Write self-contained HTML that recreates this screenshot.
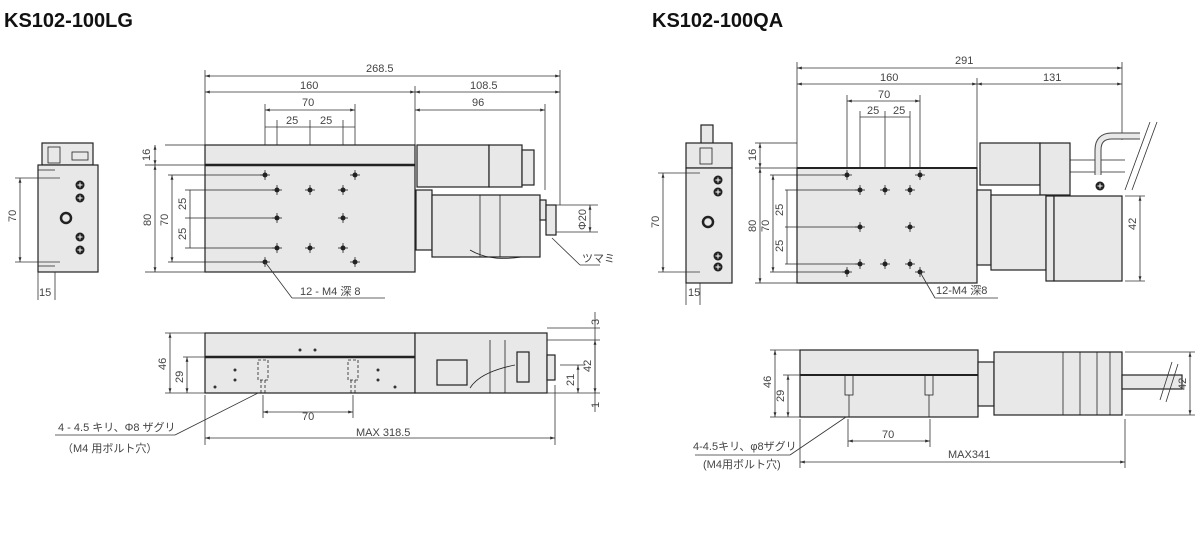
<!DOCTYPE html>
<html><head><meta charset="utf-8"><style>
html,body{margin:0;padding:0;background:#fff;}
svg{display:block;font-family:"Liberation Sans","Noto Sans CJK JP",sans-serif;}
.t{font-size:11px;fill:#444;}
.d{stroke:#333;stroke-width:0.8;fill:none;}
.b{stroke:#222;stroke-width:1.2;fill:#e8e8e8;}
.h{stroke:#222;stroke-width:0.8;fill:none;}
.sc{fill:#222;}
</style></head><body>
<svg width="1201" height="538" viewBox="0 0 1201 538" xmlns="http://www.w3.org/2000/svg">
<defs><marker id="a" viewBox="0 0 10 10" refX="10" refY="5" markerWidth="6" markerHeight="6" orient="auto-start-reverse"><path d="M0,2L10,5L0,8z" fill="#333"/></marker>
<g id="hole"><circle r="2.5" fill="#222"/><line x1="-5" y1="0" x2="5" y2="0" stroke="#222" stroke-width="0.8"/><line x1="0" y1="-5" x2="0" y2="5" stroke="#222" stroke-width="0.8"/></g>
<g id="scr"><circle r="4.5" fill="#222"/><line x1="-2.5" y1="0" x2="2.5" y2="0" stroke="#fff" stroke-width="1"/><line x1="0" y1="-2.5" x2="0" y2="2.5" stroke="#fff" stroke-width="1"/></g>
</defs>
<text x="4" y="27" font-size="20" font-weight="bold" fill="#111">KS102-100LG</text>
<text x="652" y="27" font-size="20" font-weight="bold" fill="#111">KS102-100QA</text>

<g class="d">
<line x1="205" y1="76" x2="560" y2="76" marker-start="url(#a)" marker-end="url(#a)"/>
<line x1="205" y1="92" x2="415" y2="92" marker-start="url(#a)" marker-end="url(#a)"/>
<line x1="415" y1="92" x2="560" y2="92" marker-start="url(#a)" marker-end="url(#a)"/>
<line x1="265" y1="110" x2="355" y2="110" marker-start="url(#a)" marker-end="url(#a)"/>
<line x1="415" y1="110" x2="545" y2="110" marker-start="url(#a)" marker-end="url(#a)"/>
<line x1="265" y1="127" x2="355" y2="127"/>
<line x1="205" y1="70" x2="205" y2="145"/><line x1="415" y1="86" x2="415" y2="145"/>
<line x1="560" y1="70" x2="560" y2="205"/><line x1="545" y1="104" x2="545" y2="190"/>
<line x1="265" y1="104" x2="265" y2="175"/><line x1="355" y1="104" x2="355" y2="175"/>
<line x1="277" y1="120" x2="277" y2="190"/><line x1="310" y1="120" x2="310" y2="190"/><line x1="343" y1="120" x2="343" y2="190"/>
</g>
<text class="t" x="366" y="72">268.5</text><text class="t" x="300" y="89">160</text><text class="t" x="470" y="89">108.5</text>
<text class="t" x="302" y="106">70</text><text class="t" x="472" y="106">96</text>
<text class="t" x="286" y="124">25</text><text class="t" x="320" y="124">25</text>

<rect class="b" x="42" y="143" width="51" height="22"/>
<rect class="h" x="48" y="147" width="12" height="16"/><rect class="h" x="72" y="152" width="16" height="8"/>
<rect class="b" x="38" y="165" width="60" height="107"/>
<line class="h" x1="38" y1="170" x2="55" y2="170"/><line class="h" x1="38" y1="266" x2="55" y2="266"/>
<use href="#scr" x="80" y="185"/><use href="#scr" x="80" y="198"/><use href="#scr" x="80" y="237"/><use href="#scr" x="80" y="250"/>
<circle cx="66" cy="218" r="5" stroke="#222" stroke-width="2.5" fill="none"/>
<g class="d"><line x1="20" y1="178" x2="20" y2="262" marker-start="url(#a)" marker-end="url(#a)"/>
<line x1="15" y1="178" x2="60" y2="178"/><line x1="15" y1="262" x2="60" y2="262"/>
<line x1="38" y1="272" x2="38" y2="300"/><line x1="55" y1="272" x2="55" y2="300"/></g>
<text class="t" transform="translate(16,222) rotate(-90)">70</text><text class="t" x="39" y="296">15</text>

<rect class="b" x="205" y="145" width="210" height="127"/>
<line x1="205" y1="165" x2="415" y2="165" stroke="#222" stroke-width="2.5"/>
<g class="h">
<line x1="165" y1="145" x2="205" y2="145"/><line x1="145" y1="165" x2="205" y2="165"/><line x1="145" y1="272" x2="205" y2="272"/>
<line x1="168" y1="175" x2="265" y2="175"/><line x1="168" y1="262" x2="265" y2="262"/>
<line x1="185" y1="190" x2="277" y2="190"/><line x1="185" y1="218" x2="277" y2="218"/><line x1="185" y1="248" x2="277" y2="248"/>
</g>
<g class="d">
<line x1="155" y1="145" x2="155" y2="165" marker-start="url(#a)" marker-end="url(#a)"/>
<line x1="155" y1="165" x2="155" y2="272" marker-start="url(#a)" marker-end="url(#a)"/>
<line x1="172" y1="175" x2="172" y2="262" marker-start="url(#a)" marker-end="url(#a)"/>
<line x1="190" y1="190" x2="190" y2="248"/>
</g>
<text class="t" transform="translate(150,161) rotate(-90)">16</text><text class="t" transform="translate(151,226) rotate(-90)">80</text>
<text class="t" transform="translate(168,226) rotate(-90)">70</text><text class="t" transform="translate(186,210) rotate(-90)">25</text><text class="t" transform="translate(186,240) rotate(-90)">25</text>
<use href="#hole" x="265" y="175"/><use href="#hole" x="355" y="175"/><use href="#hole" x="265" y="262"/><use href="#hole" x="355" y="262"/>
<use href="#hole" x="277" y="190"/><use href="#hole" x="310" y="190"/><use href="#hole" x="343" y="190"/>
<use href="#hole" x="277" y="218"/><use href="#hole" x="343" y="218"/>
<use href="#hole" x="277" y="248"/><use href="#hole" x="310" y="248"/><use href="#hole" x="343" y="248"/>
<line class="d" x1="265" y1="262" x2="292" y2="298"/><line class="d" x1="292" y1="298" x2="385" y2="298"/>
<text class="t" x="300" y="295">12 - M4 深 8</text>
<rect class="b" x="417" y="145" width="72" height="42"/><rect class="b" x="489" y="145" width="33" height="42"/>
<rect class="b" x="522" y="150" width="12" height="35"/>
<rect class="b" x="416" y="190" width="16" height="60"/>
<rect class="b" x="432" y="195" width="108" height="62"/>
<line class="h" x1="480" y1="195" x2="480" y2="257"/><line class="h" x1="500" y1="195" x2="500" y2="257"/>
<rect class="b" x="540" y="200" width="6" height="20"/>
<rect class="b" x="546" y="205" width="10" height="30"/>
<path d="M470,250 Q490,262 522,257" class="h"/>
<g class="d"><line x1="556" y1="205" x2="598" y2="205"/><line x1="556" y1="232" x2="598" y2="232"/>
<line x1="590" y1="205" x2="590" y2="232" marker-start="url(#a)" marker-end="url(#a)"/>
<line x1="552" y1="238" x2="580" y2="265"/><line x1="580" y1="265" x2="600" y2="265"/></g>
<text class="t" transform="translate(586,230) rotate(-90)">Φ20</text>
<text class="t" x="582" y="262">ツマミ</text>

<rect class="b" x="205" y="333" width="210" height="60"/>
<line x1="205" y1="357" x2="415" y2="357" stroke="#222" stroke-width="2.5"/>
<rect class="b" x="415" y="333" width="132" height="60"/>
<rect class="b" x="437" y="360" width="30" height="25"/>
<line class="h" x1="490" y1="340" x2="490" y2="393"/><line class="h" x1="505" y1="340" x2="505" y2="393"/>
<rect class="b" x="517" y="352" width="12" height="30"/><rect class="b" x="547" y="355" width="8" height="25"/>
<path d="M470,388 Q480,372 515,365" class="h"/>
<g fill="#333"><circle cx="300" cy="350" r="1.5"/><circle cx="315" cy="350" r="1.5"/><circle cx="235" cy="370" r="1.5"/><circle cx="235" cy="380" r="1.5"/><circle cx="378" cy="370" r="1.5"/><circle cx="378" cy="380" r="1.5"/><circle cx="215" cy="387" r="1.5"/><circle cx="395" cy="387" r="1.5"/></g>
<g class="h" stroke-dasharray="3,2"><rect x="258" y="360" width="10" height="20"/><rect x="348" y="360" width="10" height="20"/>
<line x1="261" y1="380" x2="261" y2="393"/><line x1="265" y1="380" x2="265" y2="393"/><line x1="351" y1="380" x2="351" y2="393"/><line x1="355" y1="380" x2="355" y2="393"/></g>
<g class="d">
<line x1="165" y1="333" x2="205" y2="333"/><line x1="165" y1="393" x2="205" y2="393"/><line x1="183" y1="357" x2="205" y2="357"/>
<line x1="170" y1="333" x2="170" y2="393" marker-start="url(#a)" marker-end="url(#a)"/>
<line x1="187" y1="357" x2="187" y2="393" marker-start="url(#a)" marker-end="url(#a)"/>
<line x1="263" y1="395" x2="263" y2="418"/><line x1="353" y1="395" x2="353" y2="418"/>
<line x1="263" y1="412" x2="353" y2="412" marker-start="url(#a)" marker-end="url(#a)"/>
<line x1="205" y1="395" x2="205" y2="445"/><line x1="555" y1="385" x2="555" y2="445"/>
<line x1="205" y1="438" x2="555" y2="438" marker-start="url(#a)" marker-end="url(#a)"/>
<line x1="547" y1="328" x2="600" y2="328"/><line x1="547" y1="340" x2="600" y2="340"/><line x1="547" y1="393" x2="600" y2="393"/>
<line x1="595" y1="340" x2="595" y2="393" marker-start="url(#a)" marker-end="url(#a)"/>
<line x1="578" y1="365" x2="578" y2="393" marker-start="url(#a)" marker-end="url(#a)"/>
<line x1="560" y1="365" x2="585" y2="365"/>
<line x1="595" y1="312" x2="595" y2="412"/>
<line x1="258" y1="393" x2="175" y2="435"/><line x1="55" y1="435" x2="175" y2="435"/>
</g>
<text class="t" transform="translate(166,370) rotate(-90)">46</text><text class="t" transform="translate(183,383) rotate(-90)">29</text>
<text class="t" x="302" y="420">70</text><text class="t" x="356" y="436">MAX 318.5</text>
<text class="t" transform="translate(599,325) rotate(-90)">3</text><text class="t" transform="translate(591,372) rotate(-90)">42</text>
<text class="t" transform="translate(574,386) rotate(-90)">21</text><text class="t" transform="translate(599,408) rotate(-90)">1</text>
<text class="t" x="58" y="431">4 - 4.5 キリ、Φ8 ザグリ</text><text class="t" x="62" y="452">（M4 用ボルト穴）</text>

<g class="d">
<line x1="797" y1="68" x2="1122" y2="68" marker-start="url(#a)" marker-end="url(#a)"/>
<line x1="797" y1="84" x2="977" y2="84" marker-start="url(#a)" marker-end="url(#a)"/>
<line x1="977" y1="84" x2="1122" y2="84" marker-start="url(#a)" marker-end="url(#a)"/>
<line x1="847" y1="101" x2="920" y2="101" marker-start="url(#a)" marker-end="url(#a)"/>
<line x1="860" y1="117" x2="910" y2="117"/>
<line x1="797" y1="62" x2="797" y2="168"/><line x1="977" y1="78" x2="977" y2="168"/><line x1="1122" y1="62" x2="1122" y2="140"/>
<line x1="847" y1="95" x2="847" y2="175"/><line x1="920" y1="95" x2="920" y2="175"/>
<line x1="860" y1="111" x2="860" y2="190"/><line x1="885" y1="111" x2="885" y2="190"/><line x1="910" y1="111" x2="910" y2="190"/>
</g>
<text class="t" x="955" y="64">291</text><text class="t" x="880" y="81">160</text><text class="t" x="1043" y="81">131</text>
<text class="t" x="878" y="98">70</text><text class="t" x="867" y="114">25</text><text class="t" x="893" y="114">25</text>
<rect class="b" x="701" y="125" width="12" height="20"/>
<rect class="b" x="686" y="143" width="46" height="25"/>
<rect class="h" x="700" y="148" width="12" height="16"/>
<rect class="b" x="686" y="168" width="46" height="115"/>
<use href="#scr" x="718" y="180"/><use href="#scr" x="718" y="192"/><use href="#scr" x="718" y="256"/><use href="#scr" x="718" y="267"/>
<circle cx="708" cy="222" r="5" stroke="#222" stroke-width="2.5" fill="none"/>
<g class="d"><line x1="663" y1="173" x2="663" y2="272" marker-start="url(#a)" marker-end="url(#a)"/>
<line x1="658" y1="173" x2="700" y2="173"/><line x1="658" y1="272" x2="700" y2="272"/>
<line x1="686" y1="283" x2="686" y2="305"/><line x1="700" y1="283" x2="700" y2="305"/></g>
<text class="t" transform="translate(659,228) rotate(-90)">70</text><text class="t" x="688" y="296">15</text>
<rect class="b" x="797" y="168" width="180" height="115"/>
<line x1="797" y1="168" x2="977" y2="168" stroke="#222" stroke-width="2"/>
<g class="h"><line x1="755" y1="143" x2="797" y2="143"/><line x1="755" y1="168" x2="797" y2="168"/><line x1="755" y1="283" x2="797" y2="283"/>
<line x1="770" y1="175" x2="847" y2="175"/><line x1="770" y1="272" x2="847" y2="272"/>
<line x1="785" y1="190" x2="860" y2="190"/><line x1="785" y1="227" x2="860" y2="227"/><line x1="785" y1="264" x2="860" y2="264"/></g>
<g class="d"><line x1="760" y1="143" x2="760" y2="168" marker-start="url(#a)" marker-end="url(#a)"/>
<line x1="760" y1="168" x2="760" y2="283" marker-start="url(#a)" marker-end="url(#a)"/>
<line x1="773" y1="175" x2="773" y2="272" marker-start="url(#a)" marker-end="url(#a)"/>
<line x1="787" y1="190" x2="787" y2="264"/></g>
<text class="t" transform="translate(756,161) rotate(-90)">16</text><text class="t" transform="translate(756,232) rotate(-90)">80</text>
<text class="t" transform="translate(769,232) rotate(-90)">70</text><text class="t" transform="translate(783,216) rotate(-90)">25</text><text class="t" transform="translate(783,252) rotate(-90)">25</text>
<use href="#hole" x="847" y="175"/><use href="#hole" x="920" y="175"/><use href="#hole" x="847" y="272"/><use href="#hole" x="920" y="272"/>
<use href="#hole" x="860" y="190"/><use href="#hole" x="885" y="190"/><use href="#hole" x="910" y="190"/>
<use href="#hole" x="860" y="227"/><use href="#hole" x="910" y="227"/>
<use href="#hole" x="860" y="264"/><use href="#hole" x="885" y="264"/><use href="#hole" x="910" y="264"/>
<line class="d" x1="920" y1="272" x2="935" y2="298"/><line class="d" x1="935" y1="298" x2="998" y2="298"/>
<text class="t" x="936" y="294">12-M4 深8</text>
<rect class="b" x="980" y="143" width="60" height="42"/><rect class="b" x="1040" y="143" width="30" height="52"/>
<rect class="b" x="977" y="190" width="14" height="75"/><rect class="b" x="991" y="195" width="55" height="75"/>
<rect class="b" x="1046" y="196" width="8" height="85"/><rect class="b" x="1054" y="196" width="68" height="85"/>
<path d="M1070,160 L1125,160 M1070,172 L1125,172" class="h"/>
<path d="M1098,175 L1098,150 Q1098,136 1112,136 L1140,136" stroke="#444" stroke-width="7" fill="none"/>
<path d="M1098,175 L1098,150 Q1098,136 1112,136 L1140,136" stroke="#e8e8e8" stroke-width="5" fill="none"/>
<use href="#scr" x="1100" y="186"/>
<g class="d"><line x1="1125" y1="196" x2="1145" y2="196"/><line x1="1125" y1="281" x2="1145" y2="281"/>
<line x1="1140" y1="196" x2="1140" y2="281" marker-start="url(#a)" marker-end="url(#a)"/>
<line x1="1125" y1="190" x2="1150" y2="122"/><line x1="1132" y1="190" x2="1157" y2="122"/></g>
<text class="t" transform="translate(1136,230) rotate(-90)">42</text>
<rect class="b" x="800" y="350" width="178" height="67"/>
<line x1="800" y1="375" x2="978" y2="375" stroke="#222" stroke-width="2"/>
<rect class="b" x="978" y="362" width="16" height="44"/>
<rect class="b" x="994" y="352" width="128" height="63"/>
<g class="h"><line x1="1063" y1="352" x2="1063" y2="415"/><line x1="1080" y1="352" x2="1080" y2="415"/><line x1="1097" y1="352" x2="1097" y2="415"/><line x1="1110" y1="352" x2="1110" y2="415"/>
<rect x="845" y="375" width="8" height="20"/><rect x="925" y="375" width="8" height="20"/>
<line x1="849" y1="395" x2="849" y2="417"/><line x1="929" y1="395" x2="929" y2="417"/></g>
<rect class="b" x="1122" y="375" width="60" height="14"/>
<g class="d">
<line x1="770" y1="350" x2="800" y2="350"/><line x1="770" y1="417" x2="800" y2="417"/><line x1="783" y1="375" x2="800" y2="375"/>
<line x1="775" y1="350" x2="775" y2="417" marker-start="url(#a)" marker-end="url(#a)"/>
<line x1="788" y1="375" x2="788" y2="417" marker-start="url(#a)" marker-end="url(#a)"/>
<line x1="848" y1="419" x2="848" y2="447"/><line x1="930" y1="419" x2="930" y2="447"/>
<line x1="848" y1="441" x2="930" y2="441" marker-start="url(#a)" marker-end="url(#a)"/>
<line x1="800" y1="419" x2="800" y2="468"/><line x1="1125" y1="419" x2="1125" y2="468"/>
<line x1="800" y1="462" x2="1125" y2="462" marker-start="url(#a)" marker-end="url(#a)"/>
<line x1="1125" y1="352" x2="1195" y2="352"/><line x1="1125" y1="415" x2="1195" y2="415"/>
<line x1="1190" y1="352" x2="1190" y2="415" marker-start="url(#a)" marker-end="url(#a)"/>
<line x1="1160" y1="400" x2="1172" y2="362"/><line x1="1166" y1="402" x2="1178" y2="364"/>
<line x1="846" y1="417" x2="790" y2="455"/><line x1="695" y1="455" x2="790" y2="455"/>
</g>
<text class="t" transform="translate(771,388) rotate(-90)">46</text><text class="t" transform="translate(784,402) rotate(-90)">29</text>
<text class="t" x="882" y="438">70</text><text class="t" x="948" y="458">MAX341</text>
<text class="t" transform="translate(1186,390) rotate(-90)">42</text>
<text class="t" x="693" y="450">4-4.5キリ、φ8ザグリ</text><text class="t" x="703" y="468">(M4用ボルト穴)</text>
</svg>
</body></html>
